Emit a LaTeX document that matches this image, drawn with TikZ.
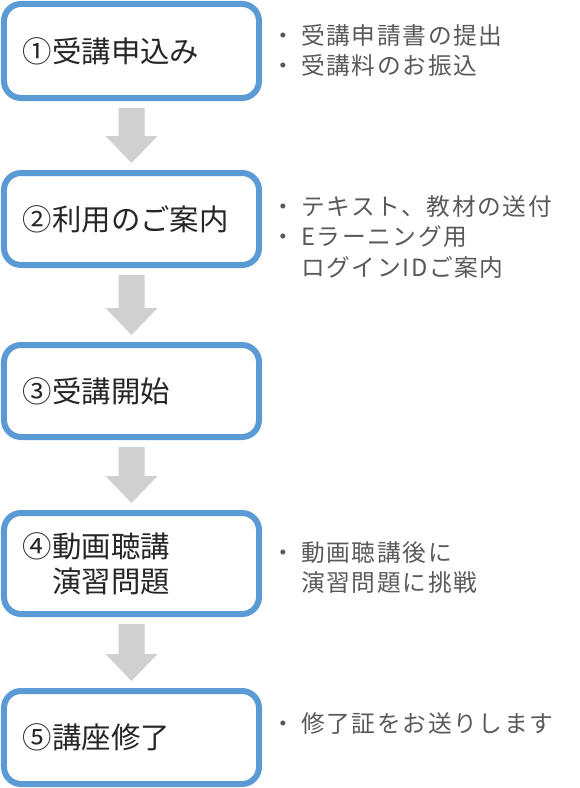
\documentclass[tikz,border=0pt]{standalone}
\usepackage{fontspec}
\setmainfont{Noto Sans CJK JP}
\newfontfamily\jpnote[LetterSpace=7]{Noto Sans CJK JP}
\usetikzlibrary{calc}
\definecolor{boxblue}{HTML}{5B9BD5}
\definecolor{arrowgray}{HTML}{D0D0D0}
\definecolor{labelgray}{HTML}{262626}
\definecolor{notegray}{HTML}{595959}
\newcommand{\bul}{\makebox[30bp][l]{・}}
\newcommand{\bulsp}{\hspace*{30bp}}
\newcommand{\blockarr}[2]{%
  \fill[arrowgray] ($(#1.south)+(-13,7)$) -- ($(#2.north)+(-13,-34)$) -- ($(#2.north)+(-26,-34)$)
    -- ($(#2.north)+(0,-7)$) -- ($(#2.north)+(26,-34)$) -- ($(#2.north)+(13,-34)$)
    -- ($(#1.south)+(13,7)$) -- cycle;}
\begin{document}
\begin{tikzpicture}[x=1bp,y=-1bp,
  stepbox/.style={draw=boxblue, line width=6bp, rounded corners=17bp, fill=white,
    inner xsep=19bp, inner ysep=0bp, text width=217bp, align=left,
    minimum width=255bp, font=\fontsize{29.5}{35}\selectfont, text=labelgray},
  note/.style={anchor=west, inner sep=0bp, align=left,
    font=\jpnote\fontsize{23.8}{31}\selectfont, text=notegray}]
\useasboundingbox (0,0) rectangle (580,788);
\node[stepbox, minimum height=94bp] (b1) at (131.5,51) {①受講申込み};
\node[stepbox, minimum height=92bp] (b2) at (131.5,219) {②利用のご案内};
\node[stepbox, minimum height=92bp] (b3) at (131.5,391) {③受講開始};
\node[stepbox, minimum height=101bp] (b4) at (131.5,563.5) {④動画聴講\\\hspace*{1em}演習問題};
\node[stepbox, minimum height=93bp] (b5) at (131.5,737.5) {⑤講座修了};
\blockarr{b1}{b2}
\blockarr{b2}{b3}
\blockarr{b3}{b4}
\blockarr{b4}{b5}
\node[note] (t1) at (271,50.5) {\bul 受講申請書の提出\\\bul 受講料のお振込};
\node[note] (t2) at (271,237) {\bul テキスト、教材の送付\\\bul Eラーニング用\\\bulsp ログインIDご案内};
\node[note] (t4) at (271,567.5) {\bul 動画聴講後に\\\bulsp 演習問題に挑戦};
\node[note] (t5) at (271,723) {\bul 修了証をお送りします};
\end{tikzpicture}
\end{document}
